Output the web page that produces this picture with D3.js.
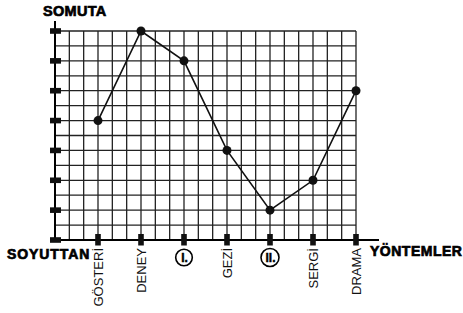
<!DOCTYPE html>
<html>
<head>
<meta charset="utf-8">
<script src="https://cdn.jsdelivr.net/npm/d3@7"></script>
<style>
  body { margin: 0; background: #fff; }
  svg { display: block; font-family: "Liberation Sans", Arial, sans-serif; }
  .title { font-weight: bold; stroke: #000; stroke-width: 0.7px; }
</style>
</head>
<body>
<div id="chart"></div>
<script>
// methods along the x axis (I. and II. are circled blanks)
var methods = ["GÖSTERİ", "DENEY", "I.", "GEZİ", "II.", "SERGİ", "DRAMA"];
var circled = ["I.", "II."];
// level on the concrete/abstract scale, 0 = SOYUTTAN ... 7 = SOMUTA
var levels = [4, 7, 6, 3, 1, 2, 5];
var yTicks = [0, 1, 2, 3, 4, 5, 6, 7];

var width = 463, height = 313;

var svg = d3.select("#chart")
    .append("svg")
    .attr("width", width)
    .attr("height", height);

var x = d3.scaleLinear().domain([0, methods.length]).range([55, 356]);
var y = d3.scaleLinear().domain([0, 7]).range([240, 31]);

// grid: 3 columns per method, 2 rows per level
var vLines = d3.range(0, methods.length + 0.001, 1 / 3);
var hLines = d3.range(0, 7.001, 0.5);

var grid = svg.append("g").attr("class", "grid");
grid.selectAll("line.v")
    .data(vLines)
    .enter()
    .append("line")
    .attr("x1", function (d) { return x(d); })
    .attr("x2", function (d) { return x(d); })
    .attr("y1", y(7))
    .attr("y2", y(0))
    .attr("stroke", "#222")
    .attr("stroke-width", 1.3);
grid.selectAll("line.h")
    .data(hLines)
    .enter()
    .append("line")
    .attr("x1", x(0))
    .attr("x2", x(methods.length))
    .attr("y1", function (d) { return y(d); })
    .attr("y2", function (d) { return y(d); })
    .attr("stroke", "#222")
    .attr("stroke-width", 1.3);

// axes
svg.append("line")
    .attr("x1", x(0)).attr("x2", x(0))
    .attr("y1", y(7) - 10).attr("y2", y(0))
    .attr("stroke", "#000").attr("stroke-width", 2);
svg.append("line")
    .attr("x1", x(0)).attr("x2", x(methods.length) + 23)
    .attr("y1", y(0)).attr("y2", y(0))
    .attr("stroke", "#000").attr("stroke-width", 2);

// y tick blocks
svg.selectAll("rect.ytick")
    .data(yTicks)
    .enter()
    .append("rect")
    .attr("class", "ytick")
    .attr("x", x(0) - 5)
    .attr("y", function (d) { return y(d) - 2.8; })
    .attr("width", 11)
    .attr("height", 5.6)
    .attr("fill", "#111");

// x tick blocks
svg.selectAll("rect.xtick")
    .data(methods)
    .enter()
    .append("rect")
    .attr("class", "xtick")
    .attr("x", function (d, i) { return x(i + 1) - 2.8; })
    .attr("y", y(0) - 6)
    .attr("width", 5.6)
    .attr("height", 11.5)
    .attr("fill", "#111");

// x labels
methods.forEach(function (m, i) {
    var cx = x(i + 1);
    if (circled.indexOf(m) >= 0) {
        svg.append("circle")
            .attr("cx", cx)
            .attr("cy", 257.5)
            .attr("r", m === "I." ? 8.3 : 9)
            .attr("fill", "#fff")
            .attr("stroke", "#000")
            .attr("stroke-width", 1.6);
        svg.append("text")
            .attr("x", cx + 0.5)
            .attr("y", 262)
            .attr("text-anchor", "middle")
            .attr("class", "title")
            .style("font-size", "12px")
            .style("stroke-width", "0.4px")
            .text(m);
    } else {
        svg.append("text")
            .attr("transform", "translate(" + (cx + 4.5) + ",248) rotate(-90)")
            .attr("text-anchor", "end")
            .style("font-size", "13px")
            .attr("fill", "#111")
            .text(m);
    }
});

// line and points
var line = d3.line()
    .x(function (d, i) { return x(i + 1); })
    .y(function (d) { return y(d); });

svg.append("path")
    .datum(levels)
    .attr("d", line)
    .attr("fill", "none")
    .attr("stroke", "#111")
    .attr("stroke-width", 1.6);

svg.selectAll("circle.pt")
    .data(levels)
    .enter()
    .append("circle")
    .attr("class", "pt")
    .attr("cx", function (d, i) { return x(i + 1); })
    .attr("cy", function (d) { return y(d); })
    .attr("r", 4.5)
    .attr("fill", "#111");

// axis titles
svg.append("text")
    .attr("x", 43).attr("y", 16)
    .attr("class", "title")
    .style("font-size", "14.5px")
    .style("letter-spacing", "0.3px")
    .text("SOMUTA");
svg.append("text")
    .attr("x", 7).attr("y", 258.5)
    .attr("class", "title")
    .style("font-size", "14px")
    .style("letter-spacing", "0.9px")
    .text("SOYUTTAN");
svg.append("text")
    .attr("x", 370).attr("y", 256)
    .attr("class", "title")
    .style("font-size", "14px")
    .style("letter-spacing", "0.5px")
    .text("YÖNTEMLER");
</script>
</body>
</html>
